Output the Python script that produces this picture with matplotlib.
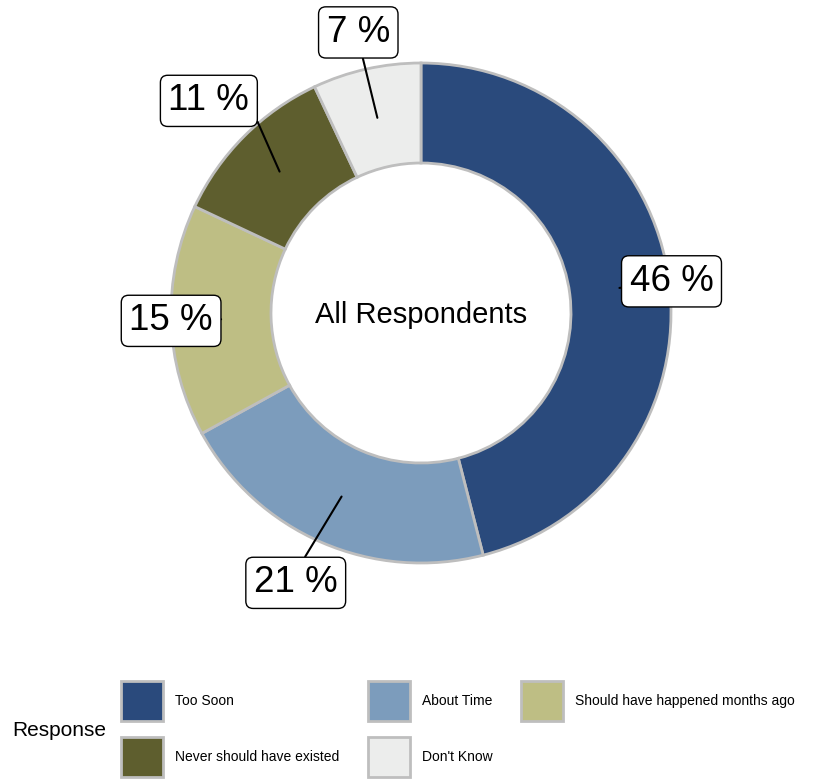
import numpy as np
import matplotlib
matplotlib.use('Agg')
import matplotlib.pyplot as plt
from matplotlib.patches import Patch

plt.rcParams['font.family'] = ['Liberation Sans', 'DejaVu Sans']

responses = ['Too Soon', 'About Time', 'Should have happened months ago',
             'Never should have existed', "Don't Know"]
shares = [46, 21, 15, 11, 7]
colors = ['#2A4A7C', '#7C9CBC', '#BEBE84', '#5E5E2E', '#ECEDEC']
center_label = 'All Respondents'
legend_title = 'Response'

# where each percentage label sits (radius in units of the outer radius,
# small angle nudge in degrees) and where on its box the leader line leaves
label_radius = [1.01, 1.19, 1.0, 1.2, 1.15]
label_nudge = [0, -1.5, 0, 0, 0]
line_anchor = [(0.5, 0.5), (0.55, 1), (0.5, 0.5), (1, 0.44), (0.54, 0)]


def main():
    fig = plt.figure(figsize=(8.35, 7.79), dpi=100)
    ax = fig.add_axes([(421 - 300) / 835, (779 - 313 - 300) / 779, 600 / 835, 600 / 779])

    wedges, _ = ax.pie(shares, colors=colors, startangle=90, counterclock=False,
                       radius=1.0,
                       wedgeprops=dict(width=0.4, edgecolor='#BEBEBE', linewidth=2))
    ax.set_xlim(-1.2, 1.2)
    ax.set_ylim(-1.2, 1.2)
    ax.set_aspect('equal')
    ax.axis('off')

    ax.text(0, -0.01, center_label, ha='center', va='center', fontsize=21)

    for w, val, r, nudge, rel in zip(wedges, shares, label_radius, label_nudge, line_anchor):
        mid = (w.theta1 + w.theta2) / 2
        ang = np.deg2rad(mid)
        lab = np.deg2rad(mid + nudge)
        ax.annotate(f'{val} %', xy=(0.8 * np.cos(ang), 0.8 * np.sin(ang)),
                    xytext=(r * np.cos(lab), r * np.sin(lab)),
                    ha='center', va='center', fontsize=26.5,
                    bbox=dict(boxstyle='round,pad=0.22,rounding_size=0.2',
                              fc='white', ec='black', lw=1),
                    arrowprops=dict(arrowstyle='-', color='black', lw=1.5,
                                    relpos=rel, shrinkA=0, shrinkB=0))

    handles = [Patch(facecolor=c, edgecolor='#BEBEBE', linewidth=2, label=l)
               for c, l in zip(colors, responses)]
    order = [0, 3, 1, 4, 2]
    fig.legend([handles[i] for i in order], [responses[i] for i in order],
               ncol=3, loc='center left', bbox_to_anchor=(121 / 835, 1 - 729 / 779),
               frameon=False, fontsize=10, handlelength=3.0, handleheight=4.05,
               handletextpad=0.86, columnspacing=2.1, labelspacing=1.15,
               borderaxespad=0, borderpad=0)
    fig.text(12 / 835, 1 - 731 / 779, legend_title, ha='left', va='center', fontsize=15)

    fig.savefig('out.png', dpi=100)


if __name__ == '__main__':
    main()
